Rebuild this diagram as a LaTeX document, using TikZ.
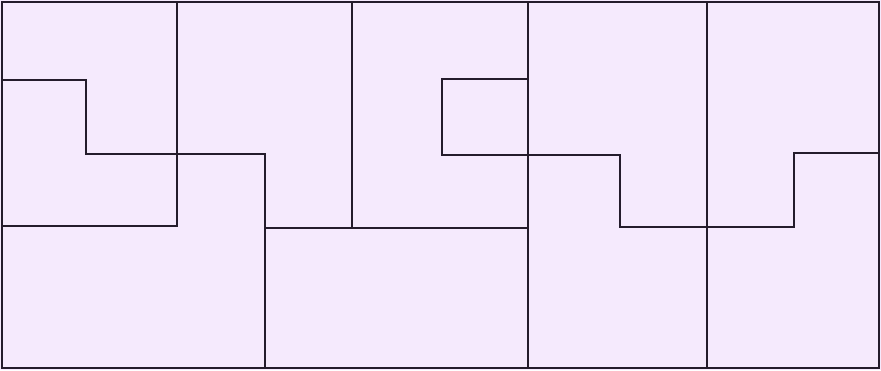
\documentclass[tikz,border=0pt]{standalone}
\definecolor{cellfill}{HTML}{F5EAFD}
\definecolor{wall}{HTML}{241C2C}
\begin{document}
\begin{tikzpicture}[x=1pt,y=-1pt,wallline/.style={draw=wall,line width=2.2pt,line cap=rect,line join=miter}]
\useasboundingbox (0,0) rectangle (881,370);
\fill[cellfill] (0,0) rectangle (881,370);
\draw[wallline] (2,2) rectangle (879,368);
% left cluster
\draw[wallline] (177,2) -- (177,226) -- (2,226);
\draw[wallline] (2,80) -- (86,80) -- (86,154) -- (265,154) -- (265,368);
% middle
\draw[wallline] (352,2) -- (352,228);
\draw[wallline] (265,228) -- (528,228);
\draw[wallline] (528,2) -- (528,368);
\draw[wallline] (528,79) -- (442,79) -- (442,155) -- (620,155) -- (620,227) -- (794,227) -- (794,153) -- (879,153);
\draw[wallline] (707,2) -- (707,368);
\end{tikzpicture}
\end{document}
